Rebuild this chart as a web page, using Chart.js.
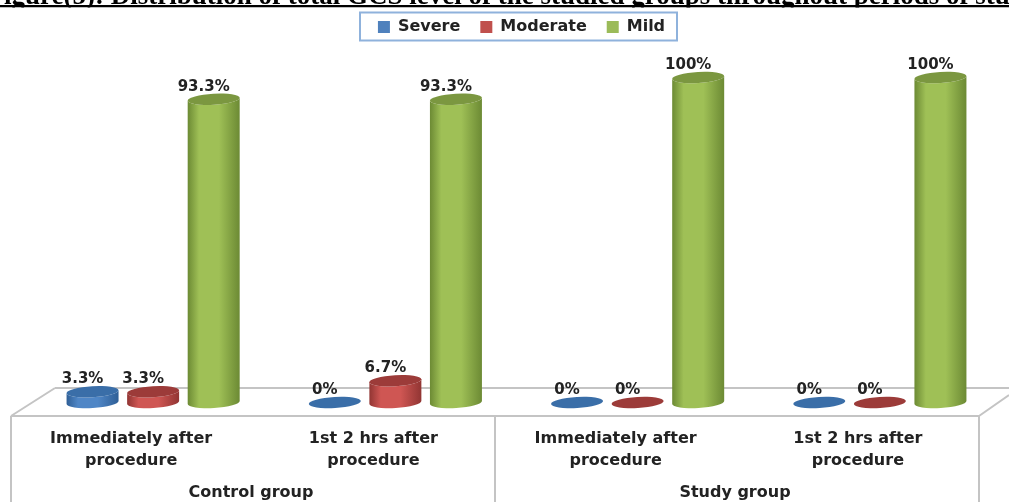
<!DOCTYPE html>
<html>
<head>
<meta charset="utf-8">
<style>
html,body{margin:0;padding:0;background:#fff;width:1009px;height:502px;overflow:hidden}
canvas{display:block}
</style>
<script src="https://cdn.jsdelivr.net/npm/chart.js@4"></script>
</head>
<body>
<canvas id="gcs" width="1009" height="502"></canvas>
<script>
// Total GCS level by study group and assessment period (percent of patients)
const headingText = "igure(5): Distribution of total GCS level of the studied groups throughout periods of study";
const periods = [
  ["Immediately after", "procedure"],
  ["1st 2 hrs after", "procedure"],
  ["Immediately after", "procedure"],
  ["1st 2 hrs after", "procedure"]
];
const groups = ["Control group", "Study group"];
const severe = [3.3, 0, 0, 0];
const moderate = [3.3, 6.7, 0, 0];
const mild = [93.3, 93.3, 100, 100];

const palette = {
  Severe:   {swatch:"#4f81bd", edge:"#2f5f96", mid:"#4f86c6", top:"#3a6ea8"},
  Moderate: {swatch:"#c0504d", edge:"#913533", mid:"#cf5653", top:"#9c3b39"},
  Mild:     {swatch:"#9bbb59", edge:"#6c8a34", mid:"#9fc056", top:"#7b9740"}
};
const textColor = "#222";
const floorColor = "#c4c4c4";
const depth = 22;       // horizontal shift of the front edge from the plot area
const ellipseTilt = -0.06;

// Paints each bar as a cylinder standing on a perspective floor
const cylinderBars = {
  id: "cylinderBars",
  afterLayout(chart) {
    chart.legend.left += 5;
    chart.legend.right += 5;
  },
  beforeDatasetsDraw(chart) {
    const {ctx, chartArea: a, scales} = chart;
    const base = scales.y.getPixelForValue(0);
    const frontL = a.left - depth + 1, frontR = a.right - depth;
    const frontY = base + 13.5, backY = base - 14.5;

    ctx.save();
    ctx.strokeStyle = floorColor;
    ctx.lineWidth = 2;
    ctx.beginPath();
    ctx.moveTo(a.left + 23, backY); ctx.lineTo(a.right + 8, backY);
    ctx.moveTo(frontL, frontY); ctx.lineTo(a.left + 23, backY);
    ctx.moveTo(frontR, frontY); ctx.lineTo(a.right + 8, frontY - 21);
    ctx.moveTo(frontL, frontY); ctx.lineTo(frontR, frontY);
    [frontL, (frontL + frontR) / 2, frontR].forEach(x => {
      ctx.moveTo(x, frontY); ctx.lineTo(x, chart.height);
    });
    ctx.stroke();

    ctx.fillStyle = textColor;
    ctx.font = "bold 16px 'DejaVu Sans'";
    ctx.textAlign = "center";
    ctx.textBaseline = "middle";
    groups.forEach((g, i) => {
      const cx = frontL + (frontR - frontL) * (i + 0.5) / groups.length;
      ctx.fillText(g, cx - 2, 493);
    });

    chart.data.datasets.forEach((ds, di) => {
      const c = palette[ds.label];
      chart.getDatasetMeta(di).data.forEach(bar => {
        const rx = bar.width / 2, ry = 5.5;
        const x = bar.x, top = bar.y;
        if (top < base) {
          const g = ctx.createLinearGradient(x - rx, 0, x + rx, 0);
          g.addColorStop(0, c.edge);
          g.addColorStop(0.22, c.mid);
          g.addColorStop(0.6, c.mid);
          g.addColorStop(1, c.edge);
          ctx.fillStyle = g;
          ctx.beginPath();
          ctx.ellipse(x, top, rx, ry, ellipseTilt, Math.PI, 0, true);
          ctx.ellipse(x, base, rx, ry, ellipseTilt, 0, Math.PI);
          ctx.closePath();
          ctx.fill();
        }
        ctx.fillStyle = c.top;
        ctx.beginPath();
        ctx.ellipse(x, top, rx, ry, ellipseTilt, 0, Math.PI * 2);
        ctx.fill();
      });
    });
    ctx.restore();
    return false;
  },
  afterDraw(chart) {
    const {ctx} = chart;
    ctx.save();
    ctx.fillStyle = textColor;
    ctx.font = "bold 15px 'DejaVu Sans'";
    ctx.textAlign = "center";
    ctx.textBaseline = "middle";
    chart.data.datasets.forEach((ds, di) => {
      chart.getDatasetMeta(di).data.forEach((bar, i) => {
        ctx.fillText(ds.data[i] + "%", bar.x - 10, bar.y - 12.5);
      });
    });

    // Legend frame
    ctx.strokeStyle = "#8fb2dc";
    ctx.lineWidth = 2;
    ctx.strokeRect(360, 12.5, 317, 28);

    // Heading, cut off by the top edge of the page and by its rule
    ctx.beginPath();
    ctx.rect(0, 0, 1009, 7.5);
    ctx.clip();
    ctx.fillStyle = "#000";
    ctx.font = "bold 27px 'Liberation Serif'";
    ctx.textAlign = "left";
    ctx.textBaseline = "alphabetic";
    ctx.fillText(headingText, 4, 3.5);
    ctx.fillRect(0, 5, 1009, 2.5);
    ctx.restore();
  }
};

const makeSet = (label, data) => ({
  label, data,
  backgroundColor: palette[label].swatch,
  borderWidth: 0
});

new Chart(document.getElementById("gcs"), {
  type: "bar",
  data: {
    labels: periods,
    datasets: [makeSet("Severe", severe), makeSet("Moderate", moderate), makeSet("Mild", mild)]
  },
  plugins: [cylinderBars],
  options: {
    responsive: false,
    animation: false,
    categoryPercentage: 0.75,
    barPercentage: 0.86,
    layout: {padding: {top: -1, left: 32, right: 8, bottom: 0}},
    plugins: {
      tooltip: {enabled: false},
      title: {display: false},
      legend: {
        display: true,
        position: "top",
        fullSize: false,
        labels: {
          boxWidth: 12,
          boxHeight: 12,
          padding: 20,
          color: textColor,
          font: {family: "'DejaVu Sans'", size: 16, weight: "bold"}
        }
      }
    },
    scales: {
      x: {
        grid: {display: false, drawTicks: false},
        border: {display: false},
        afterFit(scale) { scale.height = 99.5; },
        ticks: {
          padding: 25,
          labelOffset: -depth,
          maxRotation: 0,
          autoSkip: false,
          color: textColor,
          font: {family: "'DejaVu Sans'", size: 16, weight: "bold", lineHeight: 1.375}
        }
      },
      y: {display: false, min: 0, max: 110}
    }
  }
});
</script>
</body>
</html>
